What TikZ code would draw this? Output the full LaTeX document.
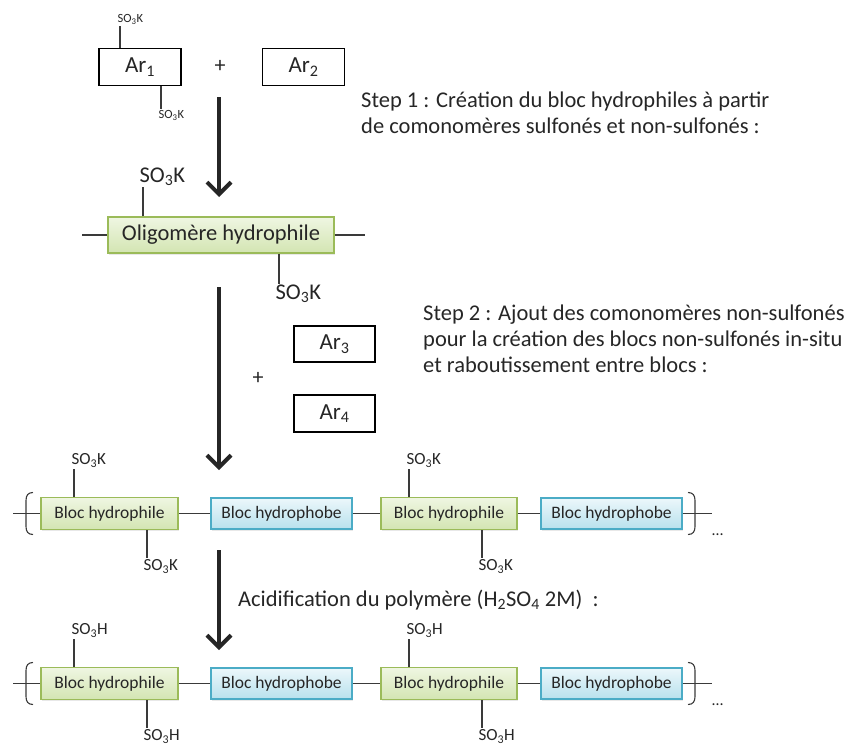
\documentclass[tikz,border=0pt]{standalone}
\usepackage{fontspec}
\setmainfont{Carlito}
\usetikzlibrary{arrows.meta,shadows}

\begin{document}
\begin{tikzpicture}[x=1pt,y=-1pt,
  bond/.style={draw=bondc,line width=1.1pt},
  bigarrow/.style={draw=ink,line width=4pt,-{Straight Barb[length=12pt,width=24pt]}},
  arbox/.style={draw=black,line width=1.2pt,fill=white,minimum width=82,minimum height=37,inner sep=0pt,text=ink,font=\fontsize{23}{26}\selectfont},
  hphil/.style={draw=philline,line width=1.1pt,top color=philtop,bottom color=philbot,minimum width=137,minimum height=32,inner sep=0pt,text=ink,font=\fontsize{17.5}{20}\selectfont,drop shadow={shadow xshift=1.2pt,shadow yshift=-1.5pt,opacity=0.18}},
  hphob/.style={hphil,draw=phobline,top color=phobtop,bottom color=phobbot,minimum width=141,minimum height=31},
  grp/.style={text=ink,inner sep=1pt,font=\fontsize{17}{20}\selectfont},
  txt/.style={text=ink,inner sep=0pt,align=left,font=\fontsize{22.5}{26}\selectfont}]
\definecolor{ink}{HTML}{262626}
\definecolor{bondc}{HTML}{3A3A3A}
\definecolor{philline}{HTML}{9BBB59}
\definecolor{philtop}{HTML}{EFF6E2}
\definecolor{philbot}{HTML}{D3E5B2}
\definecolor{phobline}{HTML}{4BACC6}
\definecolor{phobtop}{HTML}{ECF7FB}
\definecolor{phobbot}{HTML}{B8E1ED}
\useasboundingbox (0,0) rectangle (848,752);

\node[arbox] (ar1) at (140,67) {Ar\textsubscript{1}};
\node[grp,font=\fontsize{22}{24}\selectfont] (plus1) at (220,66) {+};
\node[arbox] (ar2) at (303.5,67) {Ar\textsubscript{2}};
\draw[bond] ([xshift=-20]ar1.north) -- ++(0,-22) node[grp,anchor=south west,xshift=-4,font=\fontsize{12.5}{14}\selectfont] (ar1s) {SO\textsubscript{3}K};
\draw[bond] ([xshift=21]ar1.south) -- ++(0,23) node[grp,anchor=north west,xshift=-4,font=\fontsize{12.5}{14}\selectfont] (ar1i) {SO\textsubscript{3}K};

\coordinate (a1s) at (219,97);
\coordinate (a1e) at (219,197);
\draw[bigarrow] (a1s) -- (a1e);
\node[txt,anchor=base west] (step1) at (361,133) {Step 1 : Création du bloc hydrophiles à partir\\de comonomères sulfonés et non-sulfonés :};

\node[hphil,minimum width=226,minimum height=36,font=\fontsize{22.5}{26}\selectfont] (olig) at (221,235) {Oligomère hydrophile};
\coordinate (ol) at (82,235);
\coordinate (or) at (365,235);
\draw[bond] (ol) -- (olig) -- (or);
\draw[bond] ([xshift=-78]olig.north) -- ++(0,-29) node[grp,anchor=south west,xshift=-5,font=\fontsize{22.5}{26}\selectfont] (olst) {SO\textsubscript{3}K};
\draw[bond] ([xshift=58]olig.south) -- ++(0,30) node[grp,anchor=north west,xshift=-5,font=\fontsize{22.5}{26}\selectfont] (olsb) {SO\textsubscript{3}K};

\coordinate (a2s) at (219,287);
\coordinate (a2e) at (219,470);
\draw[bigarrow] (a2s) -- (a2e);
\node[arbox,minimum width=81,minimum height=36] (ar3) at (334.5,344) {Ar\textsubscript{3}};
\node[grp,font=\fontsize{22}{24}\selectfont] (plus2) at (258,378) {+};
\node[arbox,minimum width=81,minimum height=37] (ar4) at (334.5,413.5) {Ar\textsubscript{4}};
\node[txt,anchor=base west] (step2) at (423,372) {Step 2 : Ajout des comonomères non-sulfonés\\pour la création des blocs non-sulfonés in-situ\\et raboutissement entre blocs :};

\coordinate (a3s) at (219,550);
\coordinate (a3e) at (219,650);
\draw[bigarrow] (a3s) -- (a3e);
\node[txt,anchor=base west] (acid) at (238,606) {Acidification du polymère (H\textsubscript{2}SO\textsubscript{4} 2M)\ \ :};

\foreach \r/\yy/\ion in {1/513.5/K,2/683.5/H}
{
  \node[hphil] (gA\r) at (109.5,\yy) {Bloc hydrophile};
  \node[hphob] (bA\r) at (281.5,\yy) {Bloc hydrophobe};
  \node[hphil,minimum width=136] (gB\r) at (449,\yy) {Bloc hydrophile};
  \node[hphob] (bB\r) at (611.5,\yy) {Bloc hydrophobe};
  \coordinate (cl\r) at (13,\yy);
  \coordinate (cr\r) at (712,\yy);
  \draw[bond] (cl\r) -- (gA\r) -- (bA\r) -- (gB\r) -- (bB\r) -- (cr\r);
  \draw[bond] (33,\yy-21) .. controls (28,\yy-21) and (26,\yy-18) .. (26,\yy-13) -- (26,\yy+13) .. controls (26,\yy+18) and (28,\yy+21) .. (33,\yy+21);
  \draw[bond] (688,\yy-21) .. controls (693,\yy-21) and (695,\yy-18) .. (695,\yy-13) -- (695,\yy+13) .. controls (695,\yy+18) and (693,\yy+21) .. (688,\yy+21);
  \node[grp,anchor=base west,font=\fontsize{16}{18}\selectfont] (dots\r) at (711,\yy+22) {\dots};
  \draw[bond] ([xshift=-35.5]gA\r.north) -- ++(0,-28) node[grp,anchor=south west,xshift=-4] (gAt\r) {SO\textsubscript{3}\ion};
  \draw[bond] ([xshift=37.5]gA\r.south) -- ++(0,28) node[grp,anchor=north west,xshift=-5] (gAb\r) {SO\textsubscript{3}\ion};
  \draw[bond] ([xshift=-40]gB\r.north) -- ++(0,-28) node[grp,anchor=south west,xshift=-4] (gBt\r) {SO\textsubscript{3}\ion};
  \draw[bond] ([xshift=33]gB\r.south) -- ++(0,28) node[grp,anchor=north west,xshift=-5] (gBb\r) {SO\textsubscript{3}\ion};
}
\end{tikzpicture}
\end{document}
